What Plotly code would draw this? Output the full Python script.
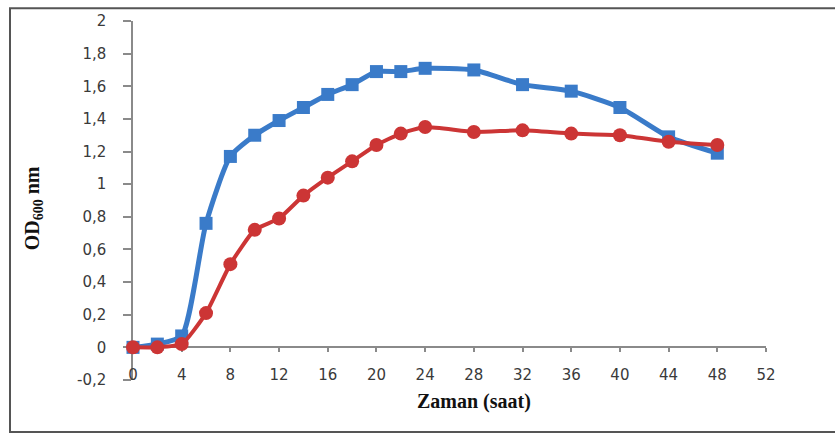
import plotly.graph_objects as go

time_h = [0, 2, 4, 6, 8, 10, 12, 14, 16, 18, 20, 22, 24, 28, 32, 36, 40, 44, 48]
blue_od = [0.0, 0.02, 0.07, 0.76, 1.17, 1.30, 1.39, 1.47, 1.55, 1.61, 1.69, 1.69, 1.71, 1.70, 1.61, 1.57, 1.47, 1.29, 1.19]
red_od = [0.0, 0.0, 0.02, 0.21, 0.51, 0.72, 0.79, 0.93, 1.04, 1.14, 1.24, 1.31, 1.35, 1.32, 1.33, 1.31, 1.30, 1.26, 1.24]

x_ticks = list(range(0, 53, 4))
y_ticks = [-0.2, 0, 0.2, 0.4, 0.6, 0.8, 1, 1.2, 1.4, 1.6, 1.8, 2]
y_tick_labels = ["-0,2", "0", "0,2", "0,4", "0,6", "0,8", "1", "1,2", "1,4", "1,6", "1,8", "2"]
x_range = [0, 52]
y_range = [-0.2, 2]

W, H = 835, 435
ml, mr, mt, mb = 133, 69, 14, 55
pw, ph = W - ml - mr, H - mt - mb

def px_to_paper_x(px):
    return (px - ml) / pw

def px_to_paper_y(py):
    return (H - mb - py) / ph

blue = "#3a7bc9"
red = "#cc3535"
axis_col = "#8a8a8a"
tick_font = dict(family="DejaVu Sans", size=15, color="#3a3a3a")
serif = "Times New Roman, Liberation Serif, serif"

fig = go.Figure()
fig.add_trace(go.Scatter(
    x=time_h, y=blue_od, mode="lines+markers",
    line=dict(color=blue, width=5, shape="spline", smoothing=0.6),
    marker=dict(symbol="square", size=13, color=blue),
    cliponaxis=False, showlegend=False))
fig.add_trace(go.Scatter(
    x=time_h, y=red_od, mode="lines+markers",
    line=dict(color=red, width=4, shape="spline", smoothing=0.5),
    marker=dict(symbol="circle", size=14, color=red),
    cliponaxis=False, showlegend=False))

zero_pos = (0 - y_range[0]) / (y_range[1] - y_range[0])

fig.update_layout(
    width=W, height=H,
    margin=dict(l=ml, r=mr, t=mt, b=mb),
    paper_bgcolor="white", plot_bgcolor="white",
    xaxis=dict(range=x_range, tickvals=x_ticks, ticktext=[str(v) for v in x_ticks],
               showgrid=False, zeroline=False, showline=True, linecolor=axis_col, linewidth=1.5,
               ticks="outside", ticklen=4, tickcolor=axis_col, tickwidth=1.5,
               tickfont=tick_font, anchor="free", position=zero_pos,
               layer="below traces", ticklabelstandoff=10),
    yaxis=dict(range=y_range, tickvals=y_ticks, ticktext=y_tick_labels,
               showgrid=False, zeroline=False, showline=True, linecolor=axis_col, linewidth=1.5,
               ticks="outside", ticklen=8, tickcolor=axis_col, tickwidth=1.5,
               tickfont=tick_font, layer="below traces", ticklabelstandoff=14),
    shapes=[dict(type="rect", xref="paper", yref="paper",
                 x0=px_to_paper_x(10), x1=px_to_paper_x(845),
                 y0=px_to_paper_y(433), y1=px_to_paper_y(1),
                 line=dict(color="#555555", width=2), fillcolor="rgba(0,0,0,0)")],
    annotations=[
        dict(text="<b>Zaman (saat)</b>", xref="paper", yref="paper",
             x=px_to_paper_x(474), y=px_to_paper_y(402), showarrow=False,
             xanchor="center", yanchor="middle",
             font=dict(family=serif, size=20, color="#111111")),
        dict(text="<b>OD<sub>600</sub> nm</b>", xref="paper", yref="paper",
             x=px_to_paper_x(33), y=px_to_paper_y(205), showarrow=False,
             textangle=-90, xanchor="center", yanchor="middle",
             font=dict(family=serif, size=20, color="#111111")),
    ],
)

fig.write_html("out.html")
